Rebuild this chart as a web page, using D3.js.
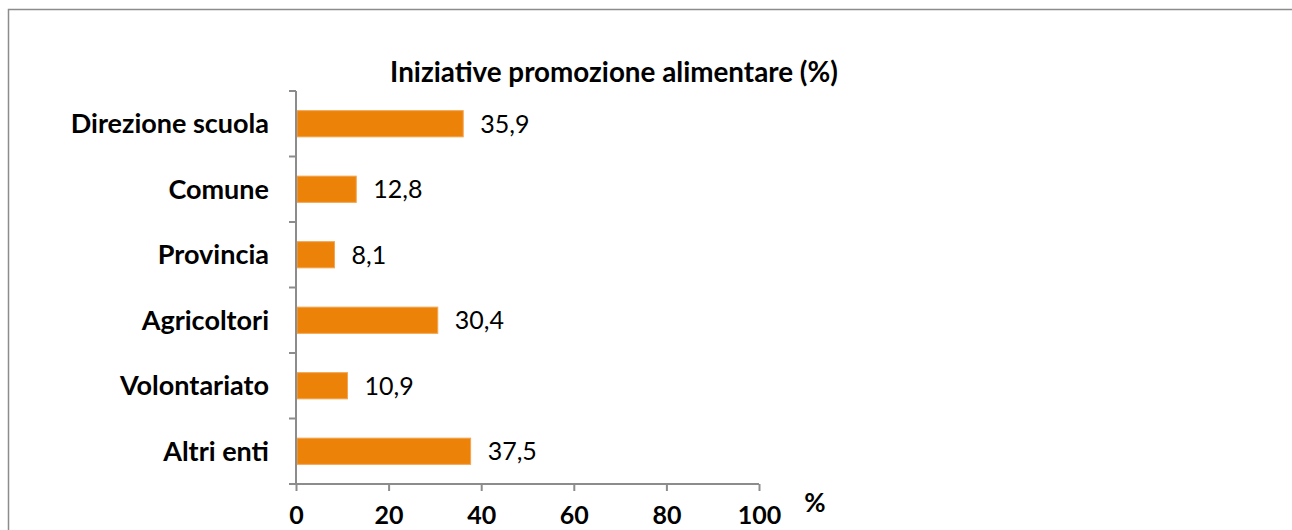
<!DOCTYPE html>
<html><head><meta charset="utf-8">
<script src="https://cdn.jsdelivr.net/npm/d3@7"></script>
<style>body{margin:0;background:#fff}svg{display:block}text{font-family:Lato,"Open Sans",sans-serif}</style>
</head><body>
<svg id="c" width="1292" height="530"></svg>
<script>
const categories = ["Direzione scuola","Comune","Provincia","Agricoltori","Volontariato","Altri enti"];
const values = [35.9,12.8,8.1,30.4,10.9,37.5];
const valueLabels = ["35,9","12,8","8,1","30,4","10,9","37,5"];
const xTicks = [0,20,40,60,80,100];
const title = "Iniziative promozione alimentare (%)";

const FS = 27;
const svg = d3.select("#c");
svg.append("rect").attr("x",8.5).attr("y",9.5).attr("width",1300).attr("height",540)
  .attr("fill","#fff").attr("stroke","#8c8c8c").attr("stroke-width",1.5);

const x = d3.scaleLinear().domain([0,100]).range([296,759]);
const y = d3.scaleBand().domain(categories).range([91,484]).padding(0);

svg.append("text").attr("x",614).attr("y",82).attr("text-anchor","middle")
  .attr("font-weight","bold").attr("font-size",27.8).attr("fill","#000").text(title);

const bh = y.bandwidth()*0.4;
svg.selectAll("rect.bar").data(categories).join("rect").attr("class","bar")
  .attr("x",x(0)+1).attr("y",d=>y(d)+(y.bandwidth()-bh)/2)
  .attr("width",(d,i)=>x(values[i])-x(0)).attr("height",bh)
  .attr("fill","#EC8208").attr("stroke","#F3A552").attr("stroke-width",1);

svg.selectAll("text.val").data(categories).join("text").attr("class","val")
  .attr("x",(d,i)=>x(values[i])+18).attr("y",d=>y(d)+y.bandwidth()/2).attr("dy","0.35em")
  .attr("font-size",25).attr("fill","#000").text((d,i)=>valueLabels[i]);

// y axis
const ya = svg.append("g").attr("transform",`translate(${x(0)},0)`);
ya.append("line").attr("x1",0).attr("x2",0).attr("y1",91).attr("y2",484).attr("stroke","#8c8c8c").attr("stroke-width",2);
const yEdges = categories.map(c=>y(c)).concat([y.range()[1]]);
ya.selectAll("line.t").data(yEdges).join("line").attr("class","t")
  .attr("x1",-7).attr("x2",0).attr("y1",d=>d).attr("y2",d=>d).attr("stroke","#8c8c8c").attr("stroke-width",2);
ya.selectAll("text").data(categories).join("text")
  .attr("x",-27).attr("y",d=>y(d)+y.bandwidth()/2).attr("dy","0.35em").attr("text-anchor","end")
  .attr("font-weight","bold").attr("font-size",FS).attr("fill","#000").text(d=>d);

// x axis
const xa = svg.append("g").attr("transform","translate(0,484)")
  .call(d3.axisBottom(x).tickValues(xTicks).tickSize(7).tickPadding(18).tickSizeOuter(0).tickFormat(d3.format("d")));
xa.select(".domain").attr("stroke","#8c8c8c").attr("stroke-width",2).attr("d",`M289,0H${x(100)}`);
xa.selectAll(".tick line").attr("stroke","#8c8c8c").attr("stroke-width",2);
xa.selectAll(".tick text").attr("y",40).attr("dy",0).attr("font-size",25).attr("font-weight","bold").attr("fill","#000").attr("font-family","Lato,'Open Sans',sans-serif");

svg.append("text").attr("x",815).attr("y",512).attr("text-anchor","middle")
  .attr("font-weight","bold").attr("font-size",26).attr("fill","#000").text("%");
</script>
</body></html>
